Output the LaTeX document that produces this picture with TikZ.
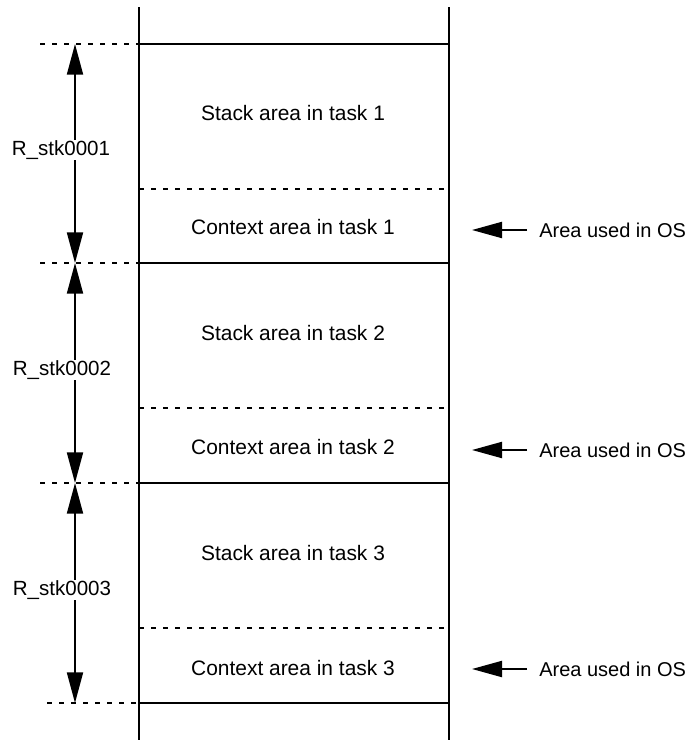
\documentclass[tikz,border=0pt]{standalone}
\usepackage{fontspec}
\setmainfont{Liberation Sans}
\usetikzlibrary{arrows.meta}

\begin{document}
\begin{tikzpicture}[x=0.75pt,y=-0.75pt,
  wall/.style={line width=1.5pt},
  sep/.style={line width=1.5pt},
  dsep/.style={line width=1.5pt, dash pattern=on 3.8pt off 5.2pt},
  dimline/.style={line width=1.5pt, {Triangle[length=23pt,width=12pt]}-{Triangle[length=23pt,width=12pt]}},
  osarrow/.style={line width=1.5pt, -{Triangle[length=22.5pt,width=12pt]}},
  lbl/.style={font=\fontsize{15.7pt}{18pt}\selectfont, inner sep=0pt},
  dimlbl/.style={lbl, font=\fontsize{15.4pt}{18pt}\selectfont, fill=white, inner sep=0.6pt},
  oslbl/.style={lbl, font=\fontsize{15pt}{18pt}\selectfont, anchor=west, inner xsep=9pt}
]
\useasboundingbox (0,0) rectangle (698,740);

% memory column walls
\draw[wall] (139,7) -- (139,740);
\draw[wall] (449,7) -- (449,740);

% task boundaries (solid) and stack/context split (dashed)
\foreach \y in {44,263,483,703} \draw[sep] (139,\y) -- (449,\y);
\foreach \y in {189,408,628} \draw[dsep] (139,\y) -- (449,\y);

% extension of boundaries to the left
\draw[dsep] (40,44) -- (139,44);
\draw[dsep] (40,263) -- (139,263);
\draw[dsep] (40,483) -- (139,483);
\draw[dsep] (47,703) -- (139,703);

% area labels
\node[lbl] (s1) at (293,113) {Stack area in task 1};
\node[lbl] (c1) at (293,227) {Context area in task 1};
\node[lbl] (s2) at (293,333) {Stack area in task 2};
\node[lbl] (c2) at (293,447) {Context area in task 2};
\node[lbl] (s3) at (293,553) {Stack area in task 3};
\node[lbl] (c3) at (293,668) {Context area in task 3};

% size dimensions
\coordinate (d0) at (75,44);
\coordinate (d1) at (75,263);
\coordinate (d2) at (75,483);
\coordinate (d3) at (75,703);
\draw[dimline] (d0) -- (d1);
\draw[dimline] (d1) -- (d2);
\draw[dimline] (d2) -- (d3);
\node[dimlbl] (r1) at (61,150) {R\_stk0001};
\node[dimlbl] (r2) at (62,370) {R\_stk0002};
\node[dimlbl] (r3) at (62,590) {R\_stk0003};

% OS usage markers
\node[oslbl] (os1) at (527,230) {Area used in OS};
\node[oslbl] (os2) at (527,450) {Area used in OS};
\node[oslbl] (os3) at (527,669) {Area used in OS};
\coordinate (p1) at (472,230);
\coordinate (p2) at (472,450);
\coordinate (p3) at (472,669);
\draw[osarrow] (os1.west) -- (p1);
\draw[osarrow] (os2.west) -- (p2);
\draw[osarrow] (os3.west) -- (p3);
\end{tikzpicture}
\end{document}
